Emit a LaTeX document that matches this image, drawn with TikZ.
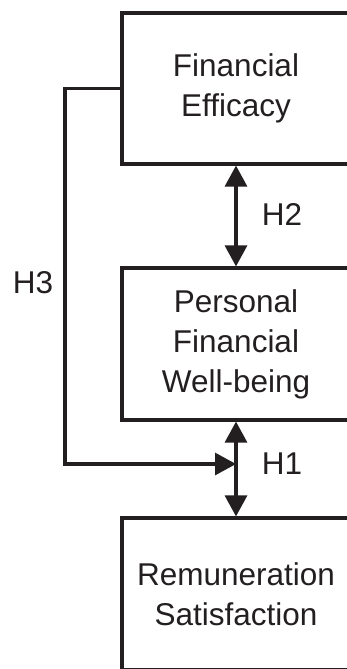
\documentclass[tikz,border=0pt]{standalone}
\usepackage{fontspec}
\setmainfont{Liberation Sans}
\usetikzlibrary{arrows.meta}
\definecolor{ink}{HTML}{231F20}
\begin{document}
\begin{tikzpicture}[x=1pt,y=-1pt,
  box/.style={draw=ink,line width=3.2pt,minimum width=228pt,align=center,inner sep=0pt,
    font=\fontsize{31.5}{40}\selectfont,text=ink},
  lbl/.style={font=\fontsize{31.5}{40}\selectfont,text=ink,inner sep=0pt},
  conn/.style={draw=ink,line width=3.2pt},
  tip/.style={-{Triangle[width=22pt,length=21pt]}},
  dtip/.style={{Triangle[width=22pt,length=21pt]}-{Triangle[width=22pt,length=21pt]}}]
\useasboundingbox (0,0) rectangle (347,669);
\clip (0,0) rectangle (347,669);
\fill[white] (0,0) rectangle (347,669);
\node[box,minimum height=151pt] (b1) at (236,88.5) {Financial\\Efficacy};
\node[box,minimum height=152pt] (b2) at (236,344) {Personal\\Financial\\Well-being};
\node[box,minimum height=151.5pt] (b3) at (236,593.75) {Remuneration\\Satisfaction};
\draw[conn,dtip] (b1.south) -- (b2.north);
\draw[conn,dtip] (b2.south) -- (b3.north);
\coordinate (c1) at (65,88.5);
\coordinate (c2) at (65,464);
\coordinate (j) at (236,464);
\draw[conn,tip,line join=miter] (b1.west) -- (c1) -- (c2) -- (j);
\node[lbl] (h2) at (282,215) {H2};
\node[lbl] (h1) at (282,464) {H1};
\node[lbl] (h3) at (33,283) {H3};
\end{tikzpicture}
\end{document}
